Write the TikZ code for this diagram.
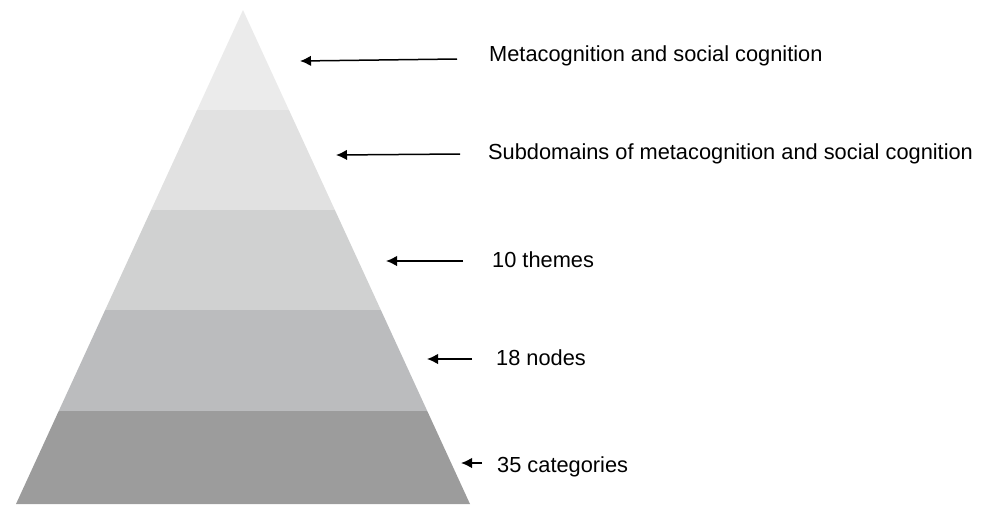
\documentclass[tikz,border=0pt]{standalone}
\usepackage{fontspec}
\setmainfont{Liberation Sans}
\usetikzlibrary{arrows.meta}
\definecolor{lvlA}{HTML}{EBEBEB}
\definecolor{lvlB}{HTML}{E1E1E1}
\definecolor{lvlC}{HTML}{D0D1D1}
\definecolor{lvlD}{HTML}{BBBCBE}
\definecolor{lvlE}{HTML}{9C9C9C}
\tikzset{
 lab/.style={anchor=base west,inner sep=0pt,font=\fontsize{21.8}{26}\selectfont},
 pointer/.style={line width=1.5pt,-{Latex[length=11pt,width=10.5pt]}}
}
\begin{document}
\begin{tikzpicture}[x=1pt,y=-1pt]
 \useasboundingbox (0,0) rectangle (988,504);
 % pyramid bands
 \begin{scope}
  \clip (243,10) -- (16,504) -- (470,504) -- cycle;
  \foreach \top/\bot/\col in {0/110/lvlA,110/210/lvlB,210/310/lvlC,310/411/lvlD,411/510/lvlE}
   \fill[\col] (0,\top) rectangle (500,\bot);
 \end{scope}
 % labels
 \node[lab] (meta) at (489,61) {Metacognition and social cognition};
 \node[lab] (sub) at (488,159) {Subdomains of metacognition and social cognition};
 \node[lab] (themes) at (492,267) {10 themes};
 \node[lab] (nodes) at (496,365) {18 nodes};
 \node[lab] (cats) at (497,472) {35 categories};
 % arrows
 \coordinate (s1) at (457,59); \coordinate (t1) at (300,61);
 \coordinate (s2) at (460,154); \coordinate (t2) at (336,155);
 \coordinate (s3) at (463,261); \coordinate (t3) at (386,261);
 \coordinate (s4) at (472,359); \coordinate (t4) at (427,359);
 \coordinate (s5) at (482,463); \coordinate (t5) at (461,463);
 \foreach \i in {1,...,5}
  \draw[pointer] (s\i) -- (t\i);
\end{tikzpicture}
\end{document}
